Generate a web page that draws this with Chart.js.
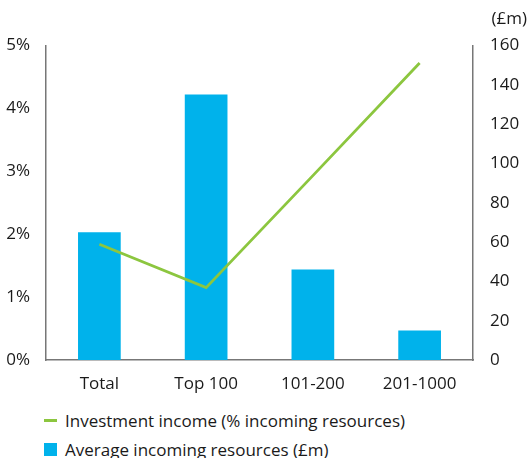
<!DOCTYPE html>
<html>
<head>
<meta charset="utf-8">
<script src="https://cdn.jsdelivr.net/npm/chart.js@4/dist/chart.umd.min.js"></script>
<style>
	html, body { margin: 0; padding: 0; background: #fff; }
	#wrap { position: relative; width: 527px; height: 458px; font-family: "Open Sans", sans-serif; color: #1a1a1a; }
	#box { position: absolute; left: 0; top: 0; width: 527px; height: 400px; }
	#legend { position: absolute; left: 44px; top: 406px; font-size: 17px; }
	.item { display: flex; align-items: center; height: 29px; }
	.mark { width: 13px; margin-right: 8px; }
</style>
</head>
<body>
<div id="wrap">
	<div id="box"><canvas id="incomeChart"></canvas></div>
	<div id="legend"></div>
</div>
<script>
const categories = ["Total", "Top 100", "101-200", "201-1000"]
const investmentIncome = [1.84, 1.15, 2.93, 4.72]   // % of incoming resources
const avgIncoming = [65, 135, 46, 15]                // £m

const green = "#8CC63F"
const blue = "#00B2EB"
const axisGrey = "#777"
const textColor = "#1a1a1a"
const tickFont = { family: "Open Sans", size: 17 }

const incomeChart = new Chart(document.getElementById("incomeChart"), {
	data: {
		labels: categories,
		datasets: [{
			type: "line",
			label: "Investment income (% incoming resources)",
			data: investmentIncome,
			yAxisID: "y",
			borderColor: green,
			backgroundColor: green,
			borderWidth: 2.8,
			pointRadius: 0,
			tension: 0,
			order: 0
		}, {
			type: "bar",
			label: "Average incoming resources (£m)",
			data: avgIncoming,
			yAxisID: "y1",
			backgroundColor: blue,
			barPercentage: 0.4,
			categoryPercentage: 1,
			order: 1
		}]
	},
	options: {
		responsive: true,
		maintainAspectRatio: false,
		animation: false,
		layout: { padding: 0 },
		plugins: {
			legend: { display: false },
			tooltip: { enabled: false },
			title: {
				display: true,
				text: "(£m)",
				align: "end",
				color: textColor,
				font: { family: "Open Sans", size: 17, weight: "normal" },
				padding: { top: 9, bottom: 16 }
			}
		},
		scales: {
			x: {
				grid: { display: false },
				border: { color: axisGrey, width: 1.5 },
				ticks: { color: textColor, font: tickFont, padding: 6 },
				afterFit: scale => { scale.height = 40 }
			},
			y: {
				position: "left",
				min: 0,
				max: 5,
				grid: { display: false },
				border: { color: axisGrey, width: 1.5 },
				ticks: {
					stepSize: 1,
					color: textColor,
					font: tickFont,
					padding: 8,
					callback: v => v + "%"
				},
				afterFit: scale => { scale.width = 46 }
			},
			y1: {
				position: "right",
				min: 0,
				max: 160,
				grid: { display: false },
				border: { color: axisGrey, width: 1.5 },
				ticks: { stepSize: 20, color: textColor, font: tickFont, padding: 9 },
				afterFit: scale => { scale.width = 54 }
			}
		}
	}
})

// legend stacked under the chart, built from the datasets
const legend = document.getElementById("legend")
incomeChart.data.datasets.forEach(ds => {
	const item = document.createElement("div")
	item.className = "item"
	const mark = document.createElement("span")
	mark.className = "mark"
	mark.style.height = ds.type === "line" ? "3px" : "13px"
	mark.style.background = ds.type === "line" ? ds.borderColor : ds.backgroundColor
	const text = document.createElement("span")
	text.textContent = ds.label
	item.appendChild(mark)
	item.appendChild(text)
	legend.appendChild(item)
})
</script>
</body>
</html>
